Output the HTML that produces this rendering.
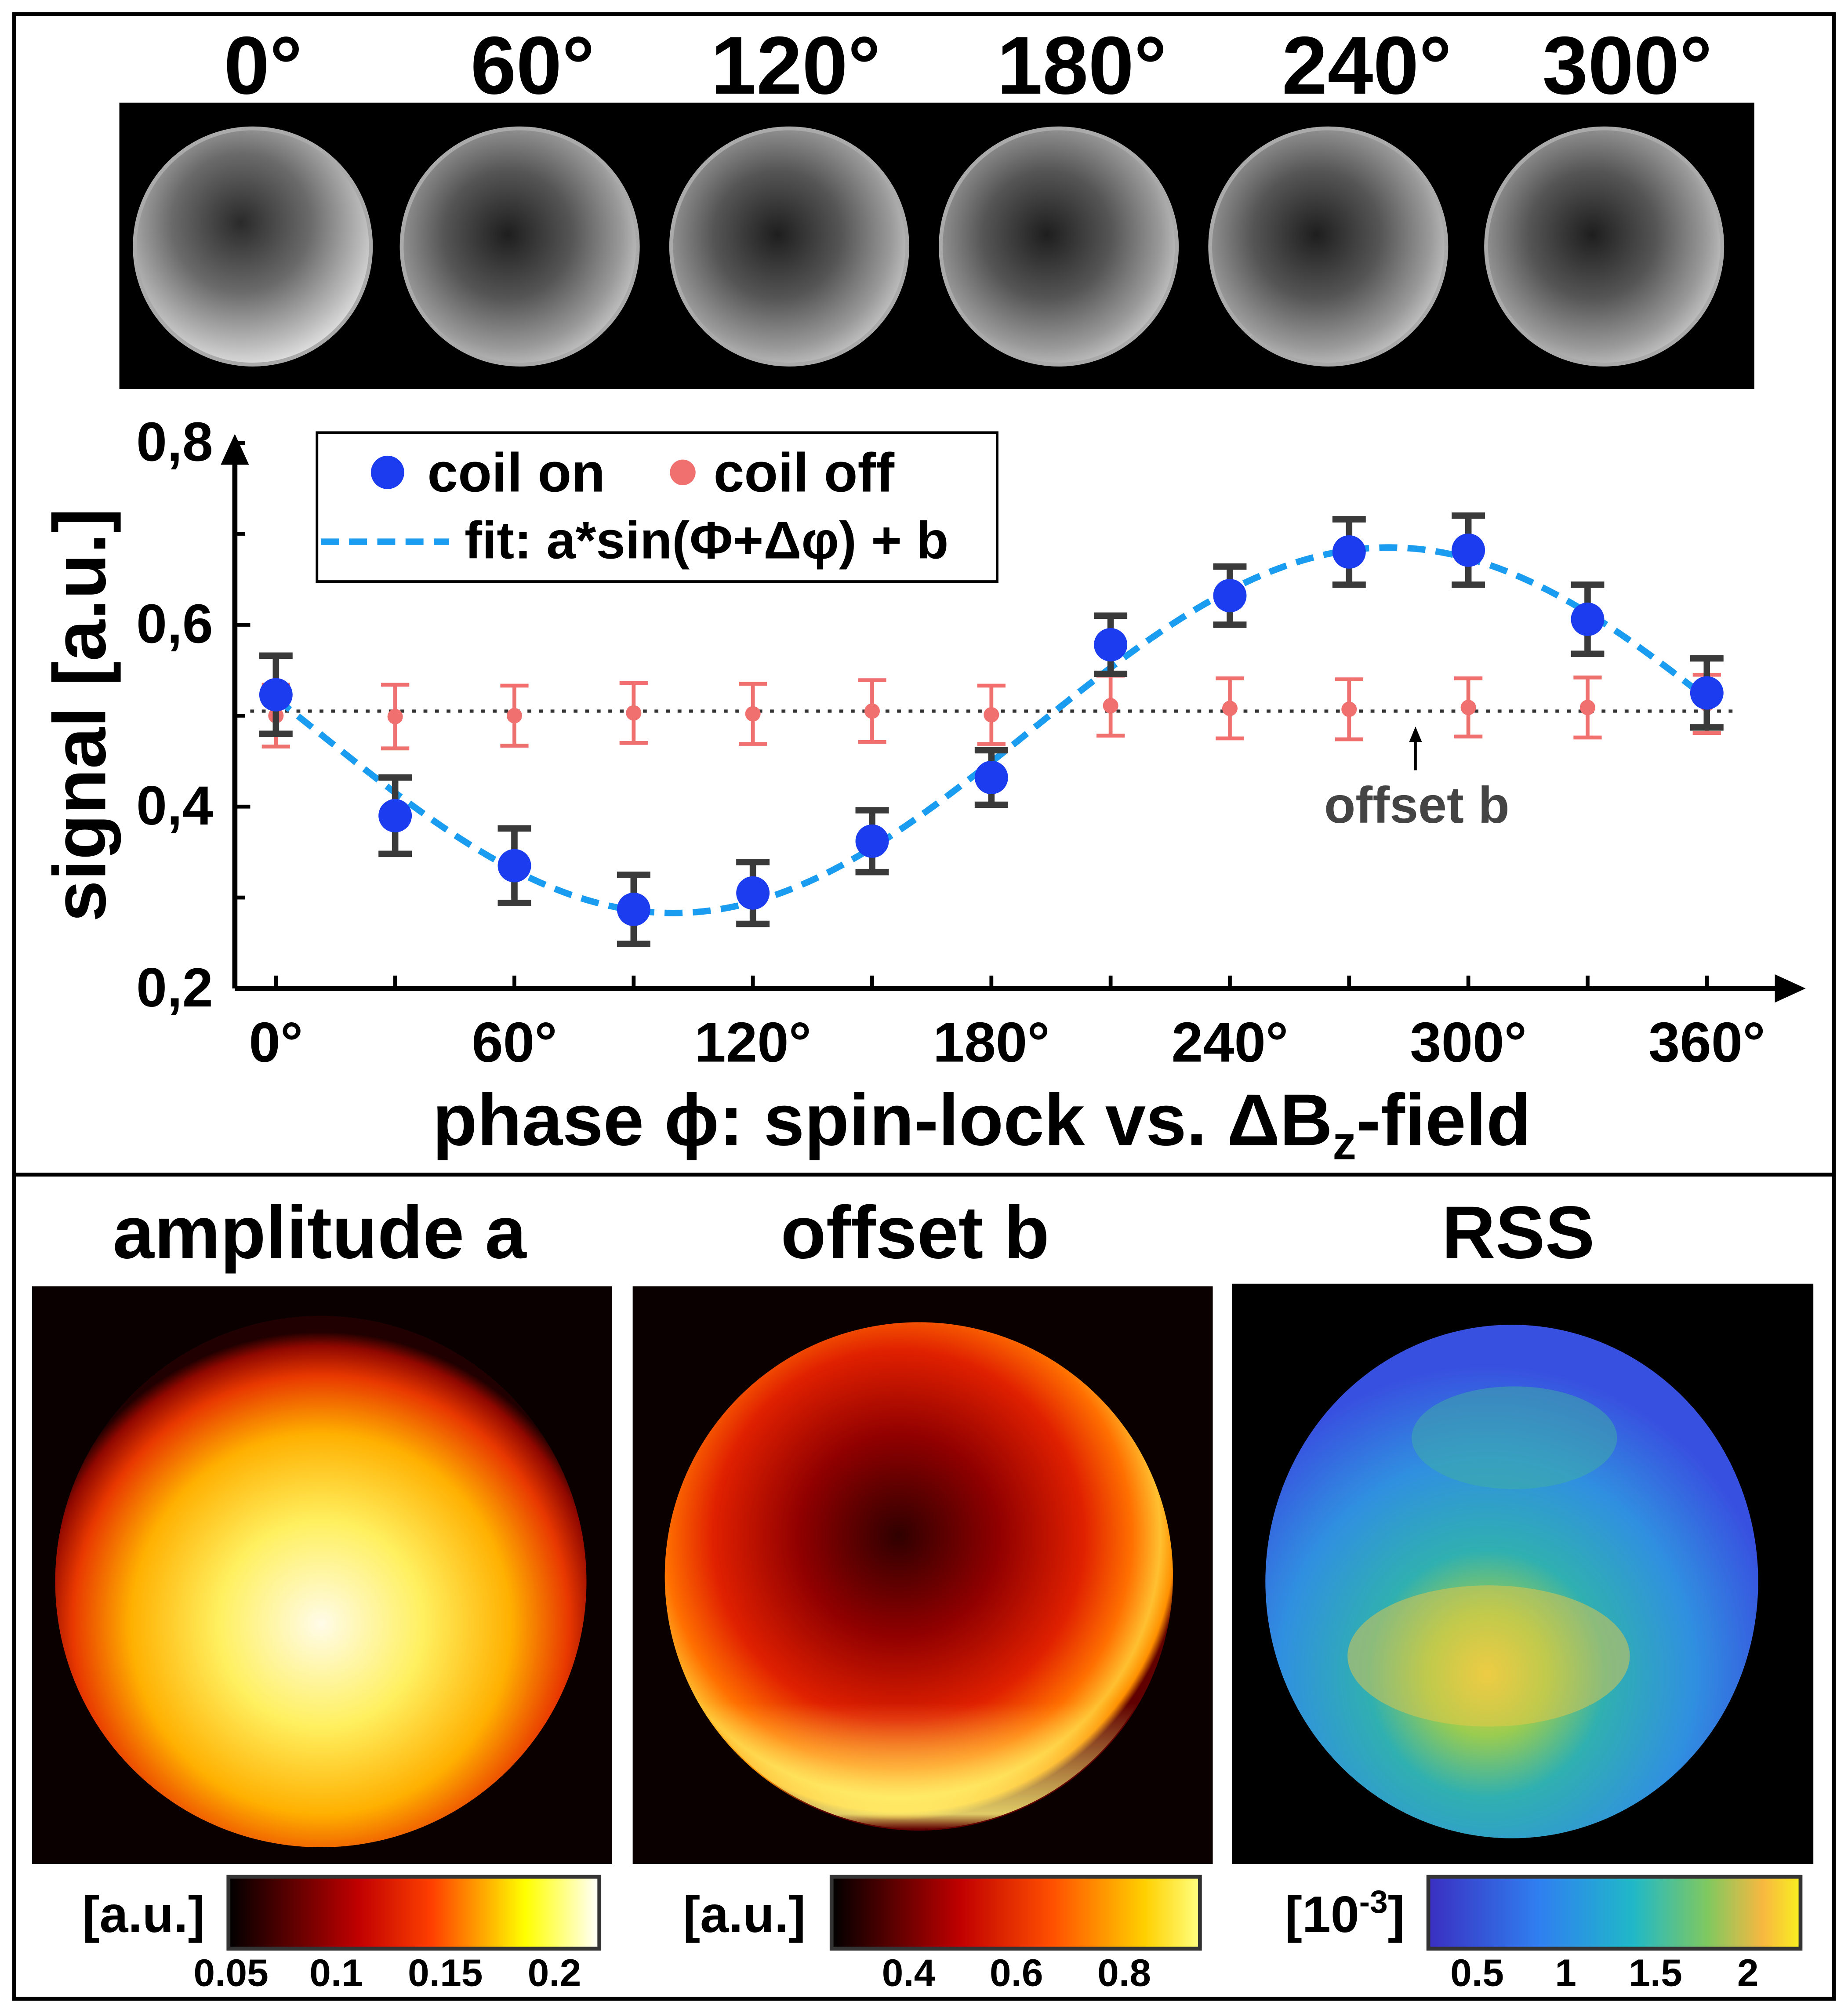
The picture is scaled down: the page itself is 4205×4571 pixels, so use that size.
<!DOCTYPE html>
<html><head><meta charset="utf-8"><style>
html,body{margin:0;padding:0;background:#fff;}
svg{display:block;font-family:"Liberation Sans",sans-serif;font-weight:bold;}
</style></head><body>
<svg id="fig" width="4205" height="4571" viewBox="0 0 1440 1565" preserveAspectRatio="none" xmlns="http://www.w3.org/2000/svg">
<defs>
<radialGradient id="mri" cx="0.45" cy="0.45" r="0.6">
<stop offset="0" stop-color="#1e1e1e"/><stop offset="0.45" stop-color="#555"/><stop offset="0.8" stop-color="#999"/><stop offset="1" stop-color="#ccc"/></radialGradient>
<radialGradient id="mri0" cx="0.45" cy="0.4" r="0.65">
<stop offset="0" stop-color="#2a2a2a"/><stop offset="0.45" stop-color="#6a6a6a"/><stop offset="0.8" stop-color="#bbb"/><stop offset="1" stop-color="#eee"/></radialGradient>
<radialGradient id="amp" cx="0.5" cy="0.58" r="0.55">
<stop offset="0" stop-color="#fffbe8"/><stop offset="0.35" stop-color="#fff060"/><stop offset="0.65" stop-color="#ffb000"/><stop offset="0.85" stop-color="#e83800"/><stop offset="0.95" stop-color="#900800"/><stop offset="1" stop-color="#200000"/></radialGradient>
<radialGradient id="off" cx="0.46" cy="0.42" r="0.56">
<stop offset="0" stop-color="#300000"/><stop offset="0.35" stop-color="#900000"/><stop offset="0.65" stop-color="#e02000"/><stop offset="0.82" stop-color="#ff7000"/><stop offset="0.92" stop-color="#ffc030"/><stop offset="0.97" stop-color="#ff9000"/><stop offset="1" stop-color="#600000"/></radialGradient>
<linearGradient id="offbot" x1="0" y1="0" x2="0" y2="1"><stop offset="0.75" stop-color="#ffff80" stop-opacity="0"/><stop offset="0.97" stop-color="#ffff80" stop-opacity="0.8"/><stop offset="1" stop-color="#ffff80" stop-opacity="0"/></linearGradient>
<radialGradient id="rss" cx="0.45" cy="0.68" r="0.6">
<stop offset="0" stop-color="#f4d040"/><stop offset="0.2" stop-color="#9acc50"/><stop offset="0.4" stop-color="#30b0b0"/><stop offset="0.7" stop-color="#3090e0"/><stop offset="1" stop-color="#3850e0"/></radialGradient>
<linearGradient id="cb1"><stop offset="0" stop-color="#000"/><stop offset="0.35" stop-color="#c00000"/><stop offset="0.55" stop-color="#ff4000"/><stop offset="0.8" stop-color="#ffff00"/><stop offset="1" stop-color="#fff"/></linearGradient>
<linearGradient id="cb2"><stop offset="0" stop-color="#000"/><stop offset="0.35" stop-color="#c00000"/><stop offset="0.6" stop-color="#ff5000"/><stop offset="0.85" stop-color="#ffd000"/><stop offset="1" stop-color="#ffff80"/></linearGradient>
<linearGradient id="cb3"><stop offset="0" stop-color="#3a2fc0"/><stop offset="0.3" stop-color="#2f80f0"/><stop offset="0.55" stop-color="#20b8c8"/><stop offset="0.75" stop-color="#80c860"/><stop offset="0.9" stop-color="#f8b840"/><stop offset="1" stop-color="#f8f020"/></linearGradient>
</defs>
<rect x="11" y="11" width="1418" height="1546" fill="none" stroke="#000" stroke-width="3"/>
<line x1="11" y1="915" x2="1429" y2="915" stroke="#000" stroke-width="3"/>
<g id="strip">
<rect x="93" y="80" width="1274" height="223" fill="#000"/>
</g>
<g id="chart"></g>
<g>
<text x="249" y="980" font-size="58" text-anchor="middle">amplitude a</text>
<rect x="25" y="1002" width="452" height="450" fill="#0a0000"/>
<circle cx="250" cy="1232" r="207" fill="url(#amp)"/>
<text x="112" y="1505" font-size="40" text-anchor="middle">[a.u.]</text>
<rect x="178" y="1462" width="289" height="56" fill="url(#cb1)" stroke="#333" stroke-width="3"/>
<g font-size="30" text-anchor="middle"><text x="180" y="1547">0.05</text><text x="262" y="1547">0.1</text><text x="347" y="1547">0.15</text><text x="432" y="1547">0.2</text></g>
</g>
<g>
<text x="713" y="980" font-size="58" text-anchor="middle">offset b</text>
<rect x="493" y="1002" width="452" height="450" fill="#0a0000"/>
<circle cx="716" cy="1228" r="198" fill="url(#off)"/>
<circle cx="716" cy="1228" r="197" fill="url(#offbot)"/>
<text x="580" y="1505" font-size="40" text-anchor="middle">[a.u.]</text>
<rect x="648" y="1462" width="287" height="56" fill="url(#cb2)" stroke="#333" stroke-width="3"/>
<g font-size="30" text-anchor="middle"><text x="708" y="1547">0.4</text><text x="792" y="1547">0.6</text><text x="876" y="1547">0.8</text></g>
</g>
<g>
<text x="1183" y="980" font-size="58" text-anchor="middle">RSS</text>
<rect x="960" y="1000" width="453" height="452" fill="#000"/>
<ellipse cx="1178" cy="1232" rx="192" ry="200" fill="url(#rss)"/>
<ellipse cx="1180" cy="1120" rx="80" ry="40" fill="#40b0a0" opacity="0.5"/>
<ellipse cx="1160" cy="1290" rx="110" ry="55" fill="#e8c848" opacity="0.5"/>
<text x="1048" y="1505" font-size="40" text-anchor="middle">[10<tspan font-size="25" dy="-15">-3</tspan><tspan dy="15">]</tspan></text>
<rect x="1113" y="1462" width="290" height="56" fill="url(#cb3)" stroke="#333" stroke-width="3"/>
<g font-size="30" text-anchor="middle"><text x="1151" y="1547">0.5</text><text x="1220" y="1547">1</text><text x="1290" y="1547">1.5</text><text x="1362" y="1547">2</text></g>
</g>
</svg>
<script>
const NS="http://www.w3.org/2000/svg";
const stripAngles=["0°","60°","120°","180°","240°","300°"];
const phases=[0,30,60,90,120,150,180,210,240,270,300,330,360];
const coilOn=[0.523,0.390,0.335,0.287,0.305,0.362,0.432,0.578,0.632,0.680,0.682,0.606,0.525];
const coilOnErr=[0.043,0.042,0.041,0.038,0.034,0.034,0.030,0.032,0.032,0.036,0.038,0.038,0.038];
const coilOff=[0.500,0.499,0.500,0.503,0.502,0.505,0.501,0.511,0.508,0.507,0.509,0.509,0.513];
const coilOffErr=[0.034,0.035,0.033,0.033,0.033,0.034,0.032,0.033,0.033,0.033,0.032,0.033,0.032];
const fitParams=[0.201,-10,0.484];
const offsetLine=[0.505];
const yTicks=[0.2,0.4,0.6,0.8];
const xTicks=[0,60,120,180,240,300,360];
function X(p){return 215+(p/360)*(1330-215);}
function Y(v){return 770-(v-0.2)/0.6*(770-345);}
function mk(tag,attrs,parent){const e=document.createElementNS(NS,tag);for(const k in attrs)e.setAttribute(k,attrs[k]);parent.appendChild(e);return e;}
const fig=document.getElementById('fig');
const strip=document.getElementById('strip');
const labX=[205,415,620,843,1065,1268],cx=[197,405,615,825,1035,1250];
stripAngles.forEach((a,i)=>{
 const t=mk('text',{x:labX[i],y:73,'font-size':64,'text-anchor':'middle'},fig);t.textContent=a;
 
 
 const c=mk('circle',{cx:cx[i],cy:192,r:92,fill:i==0?'url(#mri0)':'url(#mri)',stroke:'#aaa','stroke-width':3},strip);
 
 
});
const g=document.getElementById('chart');
mk('line',{x1:183,y1:770,x2:183,y2:360,stroke:'#000','stroke-width':4},g);
mk('polygon',{points:'183,338 172,362 194,362'},g);
mk('line',{x1:183,y1:770,x2:1385,y2:770,stroke:'#000','stroke-width':4},g);
mk('polygon',{points:'1407,770 1383,759 1383,781'},g);
for(let v=0.2;v<=0.81;v+=0.1){mk('line',{x1:183,y1:Y(v),x2:v*10%2>0.5?191:195,y2:Y(v),stroke:'#000','stroke-width':3},g);}
yTicks.forEach(v=>{const t=mk('text',{x:166,y:Y(v)+14,'font-size':43,'text-anchor':'end'},g);t.textContent=String(v.toFixed(1)).replace('.',',');
 });
phases.forEach(p=>mk('line',{x1:X(p),y1:770,x2:X(p),y2:760,stroke:'#000','stroke-width':3},g));
xTicks.forEach(p=>{const t=mk('text',{x:X(p),y:827,'font-size':44,'text-anchor':'middle'},g);t.textContent=p+'°';
 });
const xl=mk('text',{x:765,y:892,'font-size':57,'text-anchor':'middle'},g);
xl.innerHTML='phase ϕ: spin-lock vs. ΔB<tspan font-size="37" dy="11">z</tspan><tspan dy="-11">-field</tspan>';

const yl=mk('text',{x:0,y:0,'font-size':58,'text-anchor':'middle',transform:'translate(82,557) rotate(-90)'},g);
yl.textContent='signal [a.u.]';
const ol=mk('line',{x1:195,x2:1350,y1:Y(offsetLine[0]),y2:Y(offsetLine[0]),stroke:'#333','stroke-width':2.5,'stroke-dasharray':'3 6'},g);

let d='';for(let p=0;p<=360;p+=2){const v=fitParams[2]+fitParams[0]*Math.sin((p+fitParams[1])*Math.PI/180)*-1;d+=(p?'L':'M')+X(p)+','+Y(v);}
const fp=mk('path',{d:d,fill:'none',stroke:'#1a9cf0','stroke-width':5,'stroke-dasharray':'14 8'},g);

function errbar(x,v,e,col,w,cap){const eg=mk('g',{},g);
 mk('line',{x1:x,x2:x,y1:Y(v+e),y2:Y(v-e),stroke:col,'stroke-width':w},eg);
 mk('line',{x1:x-cap,x2:x+cap,y1:Y(v+e),y2:Y(v+e),stroke:col,'stroke-width':w},eg);
 mk('line',{x1:x-cap,x2:x+cap,y1:Y(v-e),y2:Y(v-e),stroke:col,'stroke-width':w},eg);return eg;}
phases.forEach((p,i)=>{
 const e=errbar(X(p),coilOff[i],coilOffErr[i],'#f07070',3,11);
 
 const c=mk('circle',{cx:X(p),cy:Y(coilOff[i]),r:6,fill:'#f07070'},g);
 
});
phases.forEach((p,i)=>{
 const e=errbar(X(p),coilOn[i],coilOnErr[i],'#3a3a3a',5,13);
 
 const c=mk('circle',{cx:X(p),cy:Y(coilOn[i]),r:13,fill:'#1c3cf0'},g);
 
});
mk('line',{x1:1103,y1:600,x2:1103,y2:574,stroke:'#000','stroke-width':2},g);
mk('polygon',{points:'1103,566 1098,578 1108,578'},g);
const an=mk('text',{x:1104,y:641,'font-size':40,'text-anchor':'middle',fill:'#444'},g);an.textContent='offset b';

const lg=mk('g',{},g);
mk('rect',{x:247,y:337,width:530,height:116,fill:'#fff',stroke:'#000','stroke-width':2},lg);
mk('circle',{cx:302,cy:368,r:13,fill:'#1c3cf0'},lg);
let t=mk('text',{x:333,y:383,'font-size':43},lg);t.textContent='coil on';
mk('circle',{cx:532,cy:368,r:10,fill:'#f07070'},lg);
t=mk('text',{x:556,y:383,'font-size':43},lg);t.textContent='coil off';
mk('line',{x1:250,x2:350,y1:422,y2:422,stroke:'#1a9cf0','stroke-width':5,'stroke-dasharray':'14 8'},lg);
t=mk('text',{x:362,y:435,'font-size':41},lg);t.textContent='fit: a*sin(Φ+Δφ) + b';
</script>
</body></html>
